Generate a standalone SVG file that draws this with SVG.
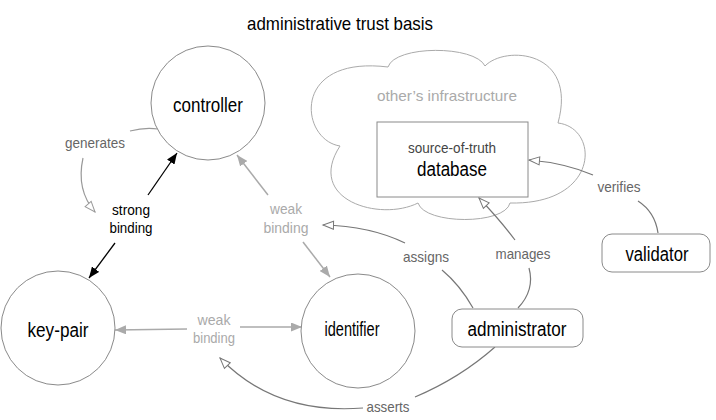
<svg xmlns="http://www.w3.org/2000/svg" width="716" height="420" viewBox="0 0 716 420">
<style>
text{font-family:"Liberation Sans",Arial,sans-serif;text-anchor:middle}
.t{font-size:19px;fill:#000}
.n{font-size:20px;fill:#000}
.l{font-size:15px;fill:#666}
.w{font-size:15px;fill:#aaa}
.circ{fill:#fff;stroke:#8a8a8a;stroke-width:1}
.box{fill:#fff;stroke:#8a8a8a;stroke-width:1}
.c-gen{fill:none;stroke:#999;stroke-width:1.2}
.c-str{fill:none;stroke:#000;stroke-width:1.3}
.c-weak{fill:none;stroke:#aaa;stroke-width:1.5}
.c-rel{fill:none;stroke:#777;stroke-width:1.2}
</style>
<defs>
<marker id="aBlack" markerUnits="userSpaceOnUse" markerWidth="12" markerHeight="9" refX="11" refY="4.5" orient="auto"><path d="M0,0 L11,4.5 L0,9 z" fill="#000"/></marker>
<marker id="aGray" markerUnits="userSpaceOnUse" markerWidth="12" markerHeight="9" refX="11" refY="4.5" orient="auto"><path d="M0,0 L11,4.5 L0,9 z" fill="#aaa"/></marker>
<marker id="aOpen" markerUnits="userSpaceOnUse" markerWidth="13" markerHeight="10" refX="11.5" refY="5" orient="auto"><path d="M1,1 L11.5,5 L1,9 z" fill="#fff" stroke="#777" stroke-width="1"/></marker>
<marker id="aOpenG" markerUnits="userSpaceOnUse" markerWidth="13" markerHeight="10" refX="11.5" refY="5" orient="auto"><path d="M1,1 L11.5,5 L1,9 z" fill="#fff" stroke="#999" stroke-width="1"/></marker>
</defs>
<text class="t" x="340" y="30" textLength="186" lengthAdjust="spacingAndGlyphs">administrative trust basis</text>
<g id="cloud">
<path d="M340,146 C300,140 290,55 388,67 C395,45 475,45 485,66 C505,45 578,50 558,123 C600,128 600,205 510,203 C505,225 425,225 418,203 C380,222 305,200 340,146 Z" fill="#fff" stroke="#aaa" stroke-width="1"/>
<text class="w" x="447" y="101" font-size="16" textLength="140" lengthAdjust="spacingAndGlyphs">other’s infrastructure</text>
</g>
<g id="connectors">
<path class="c-gen" d="M158,129 Q145,127 130,131"/>
<path class="c-gen" d="M83,158 Q76,190 95,212" marker-end="url(#aOpenG)"/>
<path class="c-str" d="M148,195 L177,153" marker-end="url(#aBlack)"/>
<path class="c-str" d="M115,243 L89,278" marker-end="url(#aBlack)"/>
<path class="c-weak" d="M268,195 L237,155" marker-end="url(#aGray)"/>
<path class="c-weak" d="M303,242 L330,277" marker-end="url(#aGray)"/>
<path class="c-weak" d="M187,329 L115,330" marker-end="url(#aGray)"/>
<path class="c-weak" d="M240,327 L302,327" marker-end="url(#aGray)"/>
<path class="c-rel" d="M473,308 Q460,285 442,270"/>
<path class="c-rel" d="M405,243 Q370,226 323,225" marker-end="url(#aOpen)"/>
<path class="c-rel" d="M518,308 Q535,290 529,268"/>
<path class="c-rel" d="M515,240 Q500,220 479,198" marker-end="url(#aOpen)"/>
<path class="c-rel" d="M658,233 Q655,212 638,201"/>
<path class="c-rel" d="M593,175 Q565,163 529,160" marker-end="url(#aOpen)"/>
<path class="c-rel" d="M495,347 Q460,378 415,397"/>
<path class="c-rel" d="M363,408 Q275,415 220,358" marker-end="url(#aOpen)"/>
</g>
<g id="labels">
<text class="l" x="95" y="148" fill="#777" textLength="60" lengthAdjust="spacingAndGlyphs">generates</text>
<text x="131" y="215" font-size="15" fill="#000" textLength="38" lengthAdjust="spacingAndGlyphs">strong</text>
<text x="131" y="233" font-size="15" fill="#000" textLength="43" lengthAdjust="spacingAndGlyphs">binding</text>
<text class="w" x="286" y="214" textLength="32" lengthAdjust="spacingAndGlyphs">weak</text>
<text class="w" x="286" y="233" textLength="45" lengthAdjust="spacingAndGlyphs">binding</text>
<text class="w" x="214" y="325" textLength="33" lengthAdjust="spacingAndGlyphs">weak</text>
<text class="w" x="214" y="343" textLength="42" lengthAdjust="spacingAndGlyphs">binding</text>
<text class="l" x="426" y="262" textLength="46" lengthAdjust="spacingAndGlyphs">assigns</text>
<text class="l" x="523" y="259" textLength="55" lengthAdjust="spacingAndGlyphs">manages</text>
<text class="l" x="619" y="192" textLength="43" lengthAdjust="spacingAndGlyphs">verifies</text>
<text class="l" x="388" y="412" textLength="43" lengthAdjust="spacingAndGlyphs">asserts</text>
</g>
<g id="controller">
<circle class="circ" cx="208" cy="103" r="57"/>
<text class="n" x="208" y="112" textLength="70" lengthAdjust="spacingAndGlyphs">controller</text>
</g>
<g id="key-pair">
<circle class="circ" cx="58" cy="328" r="57"/>
<text class="n" x="58" y="337" textLength="61" lengthAdjust="spacingAndGlyphs">key-pair</text>
</g>
<g id="identifier">
<circle class="circ" cx="358" cy="331" r="57"/>
<text class="n" x="352" y="336" textLength="55" lengthAdjust="spacingAndGlyphs">identifier</text>
</g>
<g id="database">
<rect class="box" x="377" y="122" width="151" height="75"/>
<text x="452" y="153" font-size="15" fill="#444" textLength="88" lengthAdjust="spacingAndGlyphs">source-of-truth</text>
<text class="n" x="452" y="176" textLength="70" lengthAdjust="spacingAndGlyphs">database</text>
</g>
<g id="validator">
<rect class="box" x="602" y="234" width="108" height="38" rx="10"/>
<text class="n" x="657" y="261" textLength="63" lengthAdjust="spacingAndGlyphs">validator</text>
</g>
<g id="administrator">
<rect class="box" x="452" y="309" width="131" height="38" rx="10"/>
<text class="n" x="517" y="336" textLength="99" lengthAdjust="spacingAndGlyphs">administrator</text>
</g>
</svg>
